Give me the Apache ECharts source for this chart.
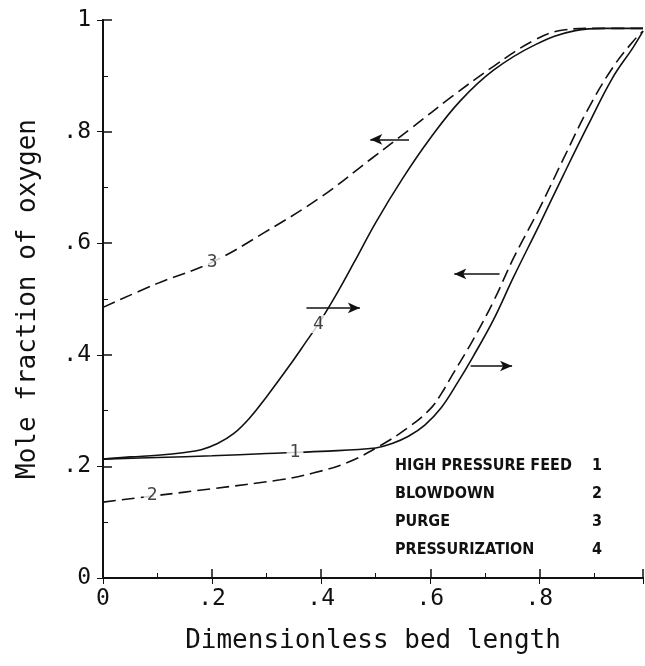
<!DOCTYPE html>
<html>
<head>
<meta charset="utf-8">
<script src="https://cdn.jsdelivr.net/npm/echarts@6/dist/echarts.min.js"></script>
<style>
  html, body { margin: 0; padding: 0; background: #fff; }
  #chart { width: 645px; height: 666px; }
</style>
</head>
<body>
<div id="chart"></div>
<script>
// tick labels
var xTickLabels = ['0', '.2', '.4', '.6', '.8', '1']
var yTickLabels = ['0', '.2', '.4', '.6', '.8', '1']

// curves, [bed length, mole fraction]
var feedCurve = [[0, 0.213], [0.1, 0.216], [0.2, 0.219], [0.3, 0.223], [0.4, 0.227], [0.5, 0.233], [0.53, 0.241],
  [0.56, 0.254], [0.59, 0.274], [0.62, 0.305], [0.65, 0.35], [0.678, 0.396], [0.716, 0.463], [0.753, 0.54],
  [0.8, 0.633], [0.844, 0.722], [0.889, 0.811], [0.934, 0.896], [0.972, 0.951], [0.99, 0.98]]
var blowdownCurve = [[0, 0.136], [0.1, 0.148], [0.2, 0.16], [0.325, 0.176], [0.385, 0.188], [0.448, 0.207],
  [0.508, 0.237], [0.56, 0.27], [0.6, 0.303], [0.62, 0.33], [0.64, 0.363], [0.678, 0.426], [0.716, 0.496],
  [0.753, 0.574], [0.8, 0.662], [0.844, 0.751], [0.889, 0.84], [0.934, 0.914], [0.972, 0.962], [0.99, 0.98]]
var purgeCurve = [[0, 0.485], [0.1, 0.528], [0.2, 0.566], [0.294, 0.618], [0.4, 0.683], [0.49, 0.75], [0.565, 0.806],
  [0.64, 0.863], [0.716, 0.917], [0.791, 0.964], [0.844, 0.982], [0.9, 0.985], [0.99, 0.985]]
var pressurizationCurve = [[0, 0.213], [0.05, 0.217], [0.1, 0.22], [0.15, 0.225], [0.18, 0.23], [0.21, 0.241],
  [0.24, 0.259], [0.27, 0.288], [0.3, 0.325], [0.34, 0.378], [0.37, 0.42], [0.4, 0.463], [0.43, 0.512],
  [0.46, 0.565], [0.5, 0.637], [0.55, 0.717], [0.6, 0.788], [0.655, 0.855], [0.716, 0.91], [0.791, 0.955],
  [0.866, 0.981], [0.92, 0.985], [0.99, 0.985]]

// numbers written on the curves
var curveTags = ['1', '2', '3', '4']
var curveTagX = [0.352, 0.09, 0.2, 0.395]
var curveTagY = [0.226, 0.148, 0.566, 0.455]

// arrows: y level, tail x, head x
var arrowY = [0.786, 0.484, 0.545, 0.38]
var arrowTail = [0.561, 0.373, 0.727, 0.674]
var arrowHead = [0.49, 0.471, 0.644, 0.75]

// legend box
var stepNames = ['HIGH PRESSURE FEED', 'BLOWDOWN', 'PURGE', 'PRESSURIZATION']
var stepNums = ['1', '2', '3', '4']

var ink = '#111'
var mono = '"DejaVu Sans Mono", "Liberation Mono", monospace'
var narrow = '"Liberation Sans Narrow", "DejaVu Sans Condensed", "Liberation Sans", sans-serif'

var myChart = echarts.init(document.getElementById('chart'))

function tickText(labels) {
  return function (v) {
    return labels[Math.round(v / 0.2)]
  }
}

var arrowLines = arrowY.map(function (y, i) {
  return [
    { coord: [arrowTail[i], y], symbol: 'none' },
    { coord: [arrowHead[i], y], symbol: 'arrow', symbolSize: [8, 12] }
  ]
})

var legendTexts = []
stepNames.forEach(function (name, i) {
  legendTexts.push({
    type: 'text', left: 395, top: 458 + i * 28,
    style: { text: name, font: 'bold 16px ' + narrow, fill: ink }
  })
  legendTexts.push({
    type: 'text', left: 592, top: 458 + i * 28,
    style: { text: stepNums[i], font: 'bold 16px ' + narrow, fill: ink }
  })
})

var option = {
  backgroundColor: '#fff',
  animation: false,
  grid: { left: 103, right: 2, top: 20, bottom: 88 },
  xAxis: [
    {
      type: 'value', min: 0, max: 0.99, interval: 0.2,
      name: 'Dimensionless bed length', nameLocation: 'middle', nameGap: 50,
      nameTextStyle: { fontFamily: mono, fontSize: 26, color: ink },
      axisLine: { lineStyle: { color: ink, width: 2 } },
      axisTick: { inside: true, length: 9, lineStyle: { color: ink, width: 1.5 } },
      minorTick: { show: true, splitNumber: 2, length: 5, lineStyle: { color: ink } },
      axisLabel: { margin: 10, formatter: tickText(xTickLabels), showMaxLabel: false,
        fontFamily: mono, fontSize: 23, color: ink },
      splitLine: { show: false }
    },
    {
      type: 'value', position: 'top', min: 0, max: 0.99, interval: 0.2,
      axisLine: { show: true, lineStyle: { color: ink, width: 2 } },
      axisTick: { inside: true, length: 6, lineStyle: { color: ink } },
      axisLabel: { show: false }, splitLine: { show: false }
    }
  ],
  yAxis: [
    {
      type: 'value', min: 0, max: 1, interval: 0.2,
      name: 'Mole fraction of oxygen', nameLocation: 'middle', nameGap: 62,
      nameTextStyle: { fontFamily: mono, fontSize: 26, color: ink },
      axisLine: { show: true, lineStyle: { color: ink, width: 2 } },
      axisTick: { show: true, inside: true, length: 9, lineStyle: { color: ink, width: 1.5 } },
      minorTick: { show: true, splitNumber: 2, length: 5, lineStyle: { color: ink } },
      axisLabel: { margin: 12, formatter: tickText(yTickLabels), fontFamily: mono, fontSize: 23, color: ink },
      splitLine: { show: false }
    },
    {
      type: 'value', position: 'right', min: 0, max: 1, interval: 0.2,
      axisLine: { show: true, lineStyle: { color: ink, width: 2 } },
      axisTick: { show: true, inside: true, length: 6, lineStyle: { color: ink } },
      axisLabel: { show: false }, splitLine: { show: false }
    }
  ],
  graphic: legendTexts,
  series: [
    {
      name: 'HIGH PRESSURE FEED', type: 'line', data: feedCurve,
      smooth: 0.4, showSymbol: false,
      lineStyle: { color: ink, width: 1.6 },
      markLine: {
        silent: true, animation: false,
        label: { show: false },
        lineStyle: { color: ink, width: 1.5, type: 'solid' },
        data: arrowLines
      }
    },
    {
      name: 'BLOWDOWN', type: 'line', data: blowdownCurve,
      smooth: 0.4, showSymbol: false,
      lineStyle: { color: ink, width: 1.6, type: [13, 6] }
    },
    {
      name: 'PURGE', type: 'line', data: purgeCurve,
      smooth: 0.4, showSymbol: false,
      lineStyle: { color: ink, width: 1.6, type: [13, 6] }
    },
    {
      name: 'PRESSURIZATION', type: 'line', data: pressurizationCurve,
      smooth: 0.4, showSymbol: false,
      lineStyle: { color: ink, width: 1.6 }
    },
    {
      type: 'scatter', symbolSize: 1, z: 5,
      itemStyle: { color: 'rgba(0,0,0,0)' },
      data: curveTags.map(function (t, i) {
        return { name: t, value: [curveTagX[i], curveTagY[i]] }
      }),
      label: {
        show: true, position: 'inside', formatter: '{b}',
        fontFamily: mono, fontSize: 18, color: ink,
        backgroundColor: '#fff', padding: [0, 3]
      }
    }
  ]
}

myChart.setOption(option)
</script>
</body>
</html>
